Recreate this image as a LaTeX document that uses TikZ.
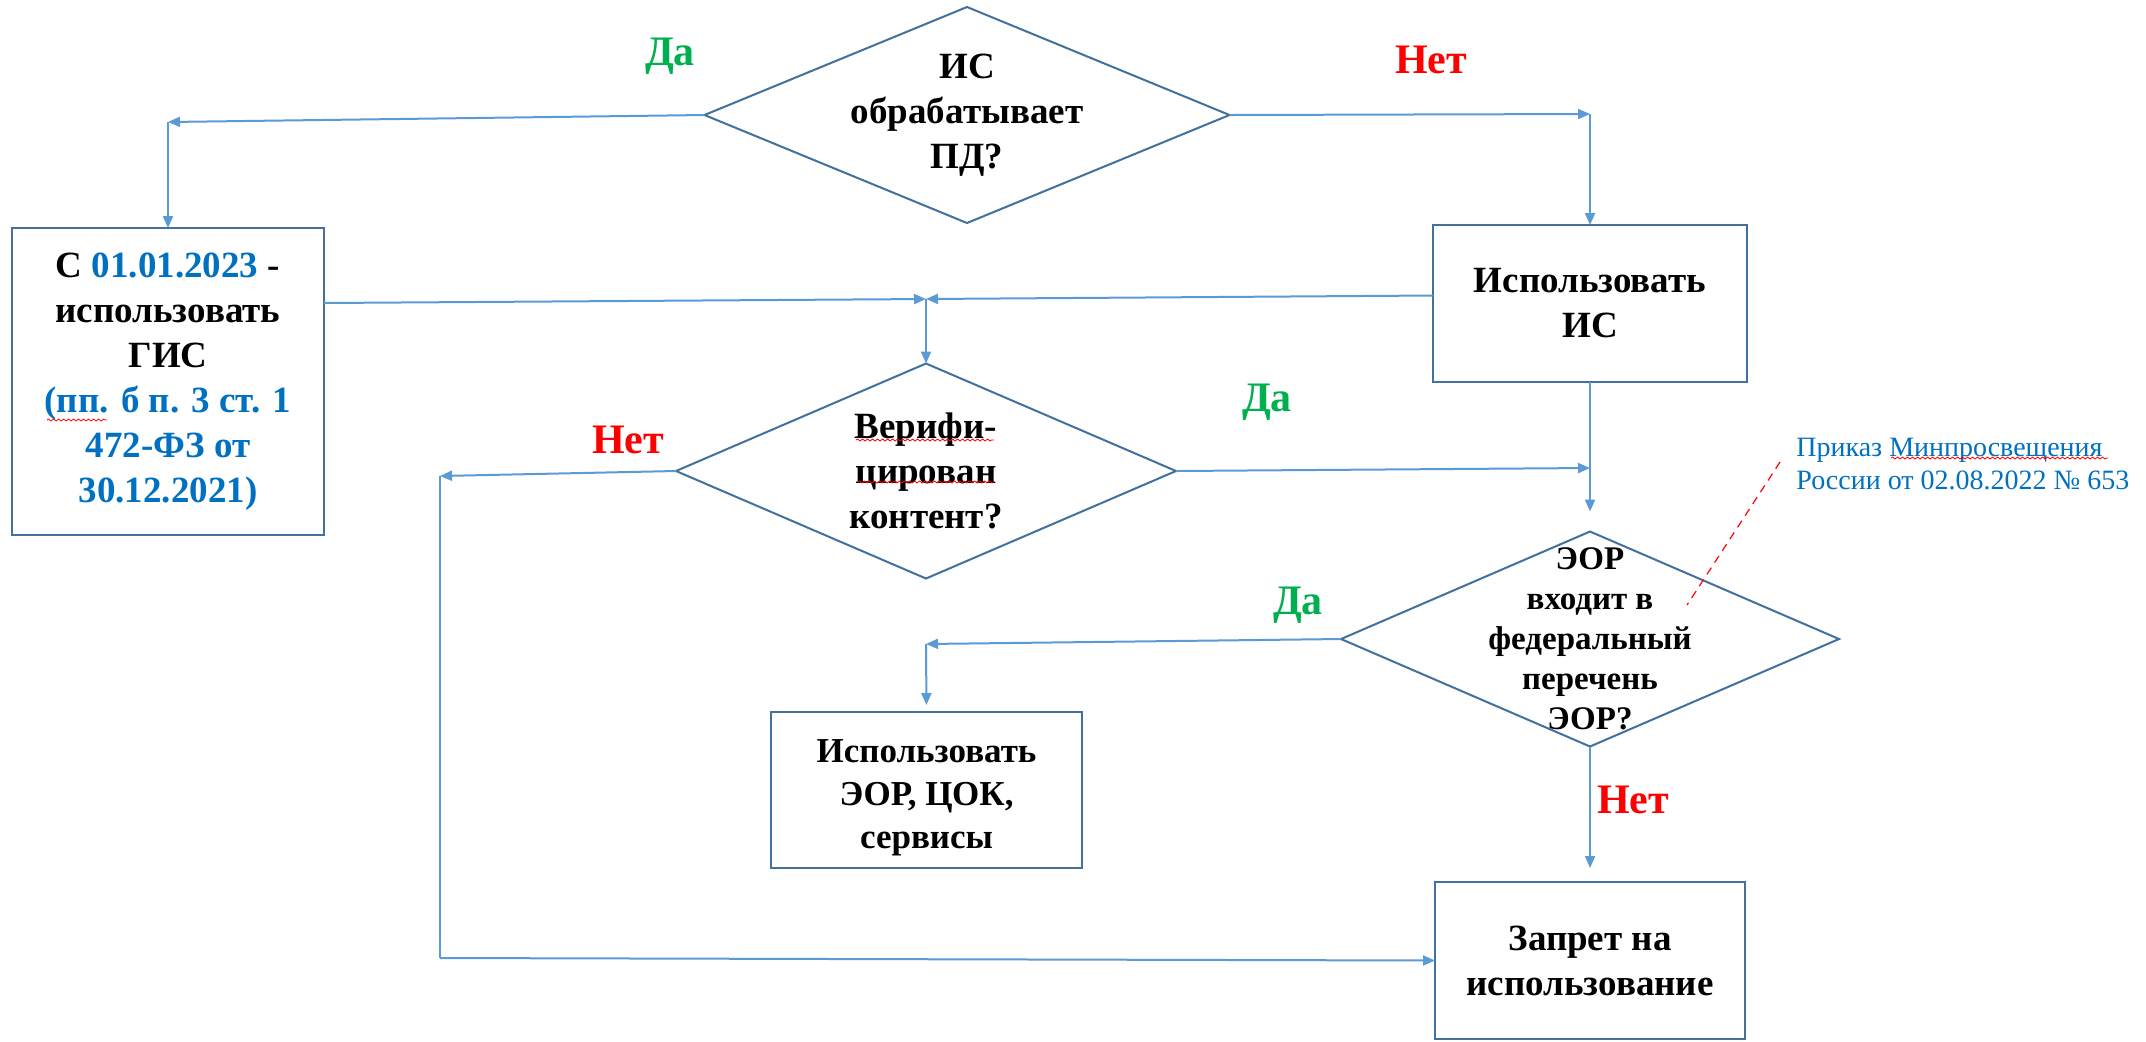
\documentclass[tikz,border=0pt]{standalone}
\usepackage{fontspec}
\setmainfont{Liberation Serif}
\usetikzlibrary{shapes.geometric,arrows.meta,decorations.pathmorphing}
\definecolor{shapeblue}{HTML}{41719C}
\definecolor{linkblue}{HTML}{5B9BD5}
\definecolor{txtblue}{HTML}{0070C0}
\definecolor{yesgreen}{HTML}{00B050}
\definecolor{nored}{HTML}{FF0000}
\begin{document}
\begin{tikzpicture}[x=0.5pt,y=-0.5pt,
  box/.style={draw=shapeblue, line width=1pt, rectangle, inner sep=0pt, outer sep=0pt},
  dia/.style={draw=shapeblue, line width=1pt, diamond, inner sep=0pt, outer sep=0pt},
  txt/.style={font=\bfseries\fontsize{18.5}{22.5}\selectfont, align=center, inner sep=0pt},
  txtsm/.style={font=\bfseries\fontsize{16.5}{20}\selectfont, align=center, inner sep=0pt},
  arr/.style={draw=linkblue, line width=1pt, -{Triangle[length=6pt,width=5pt]}},
  ln/.style={draw=linkblue, line width=1pt},
  yes/.style={font=\bfseries\fontsize{21}{24}\selectfont, text=yesgreen, inner sep=0pt},
  no/.style={font=\bfseries\fontsize{21}{24}\selectfont, text=nored, inner sep=0pt},
  wavy/.style={draw=red, line width=0.4pt, decorate, decoration={snake, amplitude=0.5pt, segment length=2.5pt}}
]
\fill[white] (0,0) rectangle (2146,1041);
\useasboundingbox (0,0) rectangle (2146,1041);

% shapes
\node[dia, minimum width=262.5pt, minimum height=108pt] (d1) at (967,115) {};
\node[txt] (d1t) at (d1.center) {ИС\\обрабатывает\\ПД?};

\node[box, txt, minimum width=155.75pt, minimum height=153.5pt] (b1) at (168,381.5)
  {С \textcolor{txtblue}{01.01.2023} -\\использовать\\ГИС\\
   \textcolor{txtblue}{(пп. б п. 3 ст. 1}\\\textcolor{txtblue}{472-ФЗ от}\\\textcolor{txtblue}{30.12.2021)}};

\node[box, txt, minimum width=157pt, minimum height=78.5pt] (bIS) at (1590,303.5) {Использовать\\ИС};

\node[dia, minimum width=250pt, minimum height=107.5pt] (d2) at (926,471) {};
\node[txt] (d2t) at (d2.center) {Верифи-\\цирован\\контент?};

\node[dia, minimum width=249pt, minimum height=107.5pt] (d3) at (1590,639) {};
\node[txtsm] (d3t) at (d3.center) {ЭОР\\входит в\\федеральный\\перечень\\ЭОР?};

\node[box, minimum width=155.5pt, minimum height=78pt] (bE) at (926.5,790) {};
\node[font=\bfseries\fontsize{17.5}{21.5}\selectfont, align=center, inner sep=0pt] (bEt) at ([yshift=-4pt]bE.center) {Использовать\\ЭОР, ЦОК,\\сервисы};

\node[box, txt, minimum width=155pt, minimum height=78.5pt] (bZ) at (1590,960.5) {Запрет на\\использование};

% annotation
\node[anchor=west, inner sep=0pt, align=left, text=txtblue, font=\fontsize{14}{16.5}\selectfont] (ann) at (1796,464)
  {Приказ Минпросвещения\\России от 02.08.2022 № 653};
\coordinate (r1) at (1780,462);
\coordinate (r2) at (1687,605);
\draw[red, line width=0.6pt, dash pattern=on 4pt off 3pt] (r1) -- (r2);

% corner points
\coordinate (c1) at (168,122);
\coordinate (c2) at (1590,114);
\coordinate (c3) at (926,299);
\coordinate (c4) at (440,476);
\coordinate (c5) at (440,958);
\coordinate (c6) at (1590,468);
\coordinate (c7) at (926,644);

% connectors
\draw[arr] (d1.west) -- (c1);
\draw[arr] (c1) -- (b1.north);
\draw[arr] (d1.east) -- (c2);
\draw[arr] (c2) -- (bIS.north);
\draw[arr] ([yshift=-37.5pt]b1.north east) -- (c3);
\draw[arr] ([yshift=4pt]bIS.west) -- (c3);
\draw[arr] (c3) -- (d2.north);
\draw[arr] (d2.west) -- (c4);
\draw[ln] (c4) -- (c5);
\draw[arr] (c5) -- (bZ.west);
\draw[arr] (d2.east) -- (c6);
\draw[arr, shorten >=10pt] (bIS.south) -- (d3.north);
\draw[arr] (d3.west) -- (c7);
\draw[arr, shorten >=3.5pt] (c7) -- (bE.north);
\draw[arr, shorten >=7pt] (d3.south) -- (bZ.north);

% labels
\node[yes] (l1) at (670,56) {Да};
\node[no] (l2) at (1431,60) {Нет};
\node[no] (l3) at (628,440) {Нет};
\node[yes] (l4) at (1267,402) {Да};
\node[yes] (l5) at (1298,605) {Да};
\node[no] (l6) at (1633,800) {Нет};

% spell-check underlines
\draw[wavy] (47,420) -- (107,420);
\draw[wavy] (856,440) -- (994,440);
\draw[wavy] (858,482) -- (994,482);
\draw[wavy] (1891,458) -- (2108,458);
\end{tikzpicture}
\end{document}
